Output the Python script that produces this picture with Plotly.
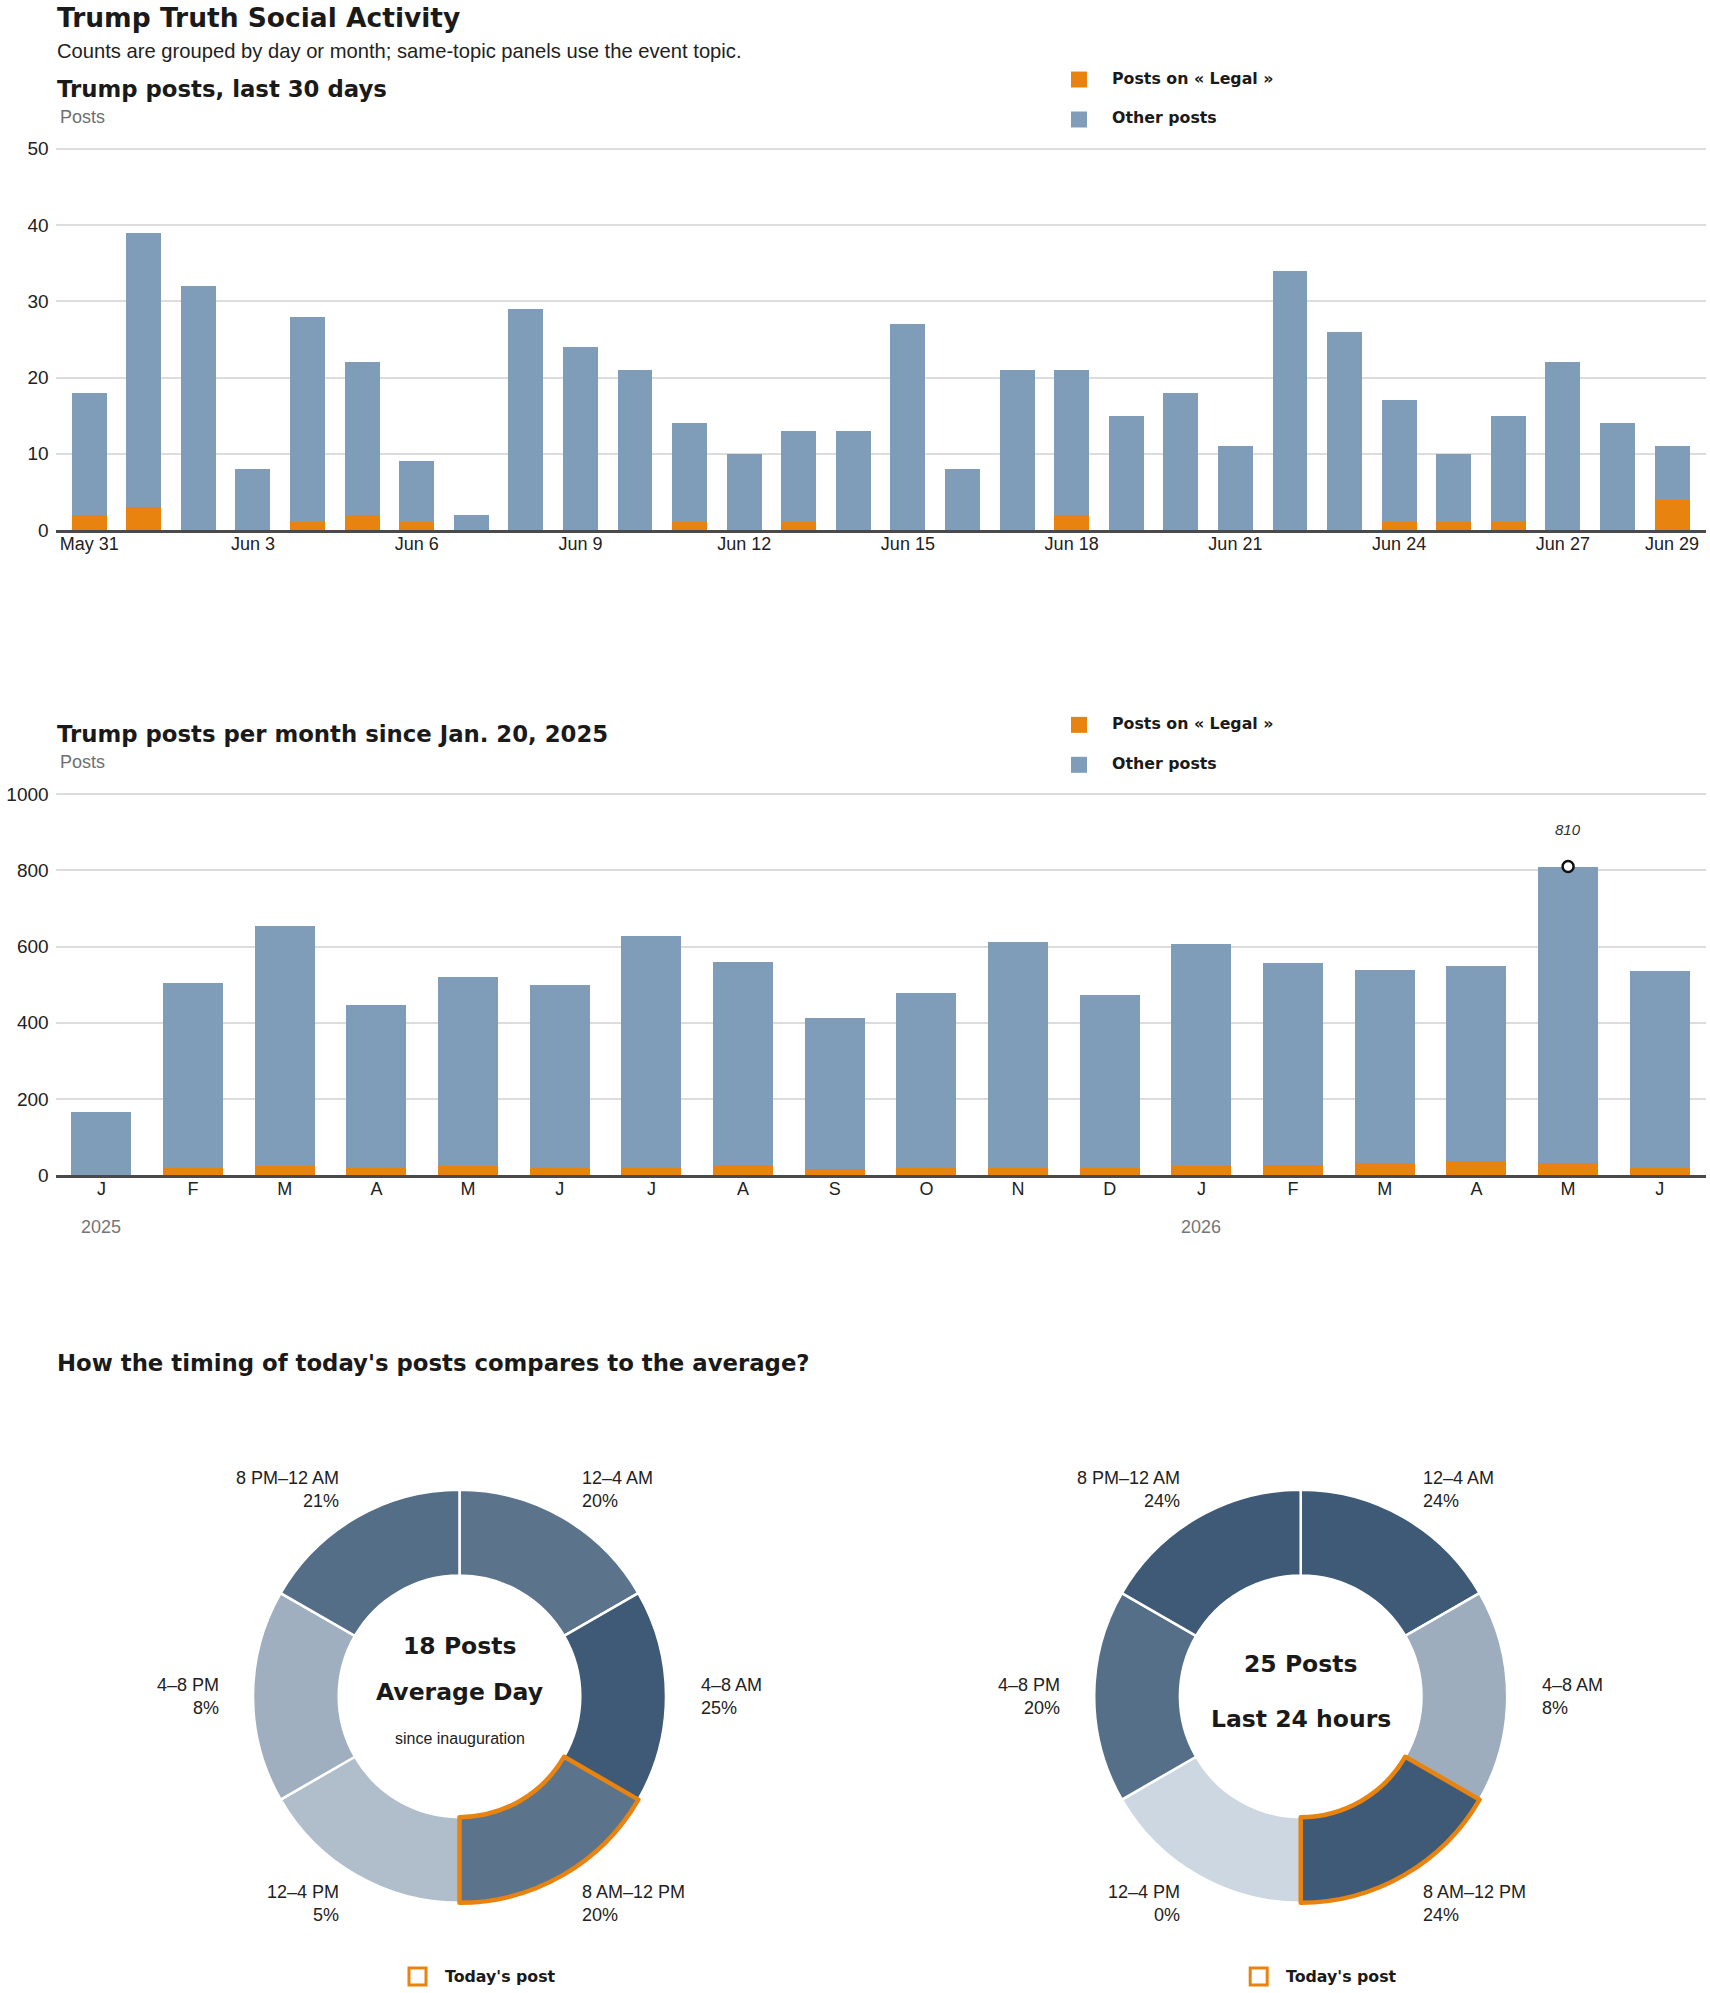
import plotly.graph_objects as go

# ---------------- data ----------------
days = ["May 31", "Jun 1", "Jun 2", "Jun 3", "Jun 4", "Jun 5", "Jun 6", "Jun 7", "Jun 8", "Jun 9",
        "Jun 10", "Jun 11", "Jun 12", "Jun 13", "Jun 14", "Jun 15", "Jun 16", "Jun 17", "Jun 18", "Jun 19",
        "Jun 20", "Jun 21", "Jun 22", "Jun 23", "Jun 24", "Jun 25", "Jun 26", "Jun 27", "Jun 28", "Jun 29"]
daily_legal = [2, 3, 0, 0, 1, 2, 1, 0, 0, 0, 0, 1, 0, 1, 0, 0, 0, 0, 2, 0, 0, 0, 0, 0, 1, 1, 1, 0, 0, 4]
daily_other = [16, 36, 32, 8, 27, 20, 8, 2, 29, 24, 21, 13, 10, 12, 13, 27, 8, 21, 19, 15, 18, 11, 34, 26, 16, 9, 14, 22, 14, 7]
day_ticks = ["May 31", "Jun 3", "Jun 6", "Jun 9", "Jun 12", "Jun 15", "Jun 18", "Jun 21", "Jun 24", "Jun 27", "Jun 29"]
daily_yticks = [0, 10, 20, 30, 40, 50]

months = ["Jan 2025", "Feb 2025", "Mar 2025", "Apr 2025", "May 2025", "Jun 2025", "Jul 2025", "Aug 2025",
          "Sep 2025", "Oct 2025", "Nov 2025", "Dec 2025", "Jan 2026", "Feb 2026", "Mar 2026", "Apr 2026",
          "May 2026", "Jun 2026"]
month_letters = ["J", "F", "M", "A", "M", "J", "J", "A", "S", "O", "N", "D", "J", "F", "M", "A", "M", "J"]
monthly_legal = [0, 20, 25, 20, 25, 20, 20, 27, 15, 20, 20, 20, 25, 27, 33, 38, 33, 20]
monthly_other = [166, 485, 630, 427, 496, 479, 608, 533, 398, 458, 592, 453, 582, 530, 506, 512, 777, 516]
monthly_yticks = [0, 200, 400, 600, 800, 1000]
year_labels = {"Jan 2025": "2025", "Jan 2026": "2026"}

slots = ["12–4 AM", "4–8 AM", "8 AM–12 PM", "12–4 PM", "4–8 PM", "8 PM–12 AM"]
avg_pct = [20, 25, 20, 5, 8, 21]
today_pct = [24, 8, 24, 0, 20, 24]
current_slot = "8 AM–12 PM"
avg_posts = 18
today_posts = 25

# ---------------- style ----------------
W, H = 1710, 1993
ORANGE = "#E8830F"
BLUE = "#7F9DB9"
GRID = "#dcdcdc"
INK = "#1a1a1a"
GRAY = "#6f6f6f"
BOLD = "DejaVu Sans"
REG = "Liberation Sans"

# vertical placement calibration (screen y = T + S * figure y)
T_OFF, S_V = 5.4, 0.992


def px(x):
    return x / W


def py(s):
    return 1 - (s - T_OFF) / (S_V * H)


fig = go.Figure()

# chart 1: daily
fig.add_trace(go.Bar(x=days, y=daily_legal, name="Posts on « Legal »", marker=dict(color=ORANGE, line=dict(width=0)),
                     width=0.64, xaxis="x", yaxis="y", showlegend=False))
fig.add_trace(go.Bar(x=days, y=daily_other, name="Other posts", marker=dict(color=BLUE, line=dict(width=0)),
                     width=0.64, xaxis="x", yaxis="y", showlegend=False))

# chart 2: monthly
fig.add_trace(go.Bar(x=months, y=monthly_legal, name="Posts on « Legal »", marker=dict(color=ORANGE, line=dict(width=0)),
                     width=0.655, xaxis="x2", yaxis="y2", showlegend=False))
fig.add_trace(go.Bar(x=months, y=monthly_other, name="Other posts", marker=dict(color=BLUE, line=dict(width=0)),
                     width=0.655, xaxis="x2", yaxis="y2", showlegend=False))

monthly_total = [a + b for a, b in zip(monthly_legal, monthly_other)]
peak_i = max(range(len(monthly_total)), key=lambda i: monthly_total[i])
fig.add_trace(go.Scatter(x=[months[peak_i]], y=[monthly_total[peak_i]], mode="markers",
                         marker=dict(symbol="circle", size=11, color="white", line=dict(color="#111", width=2.5)),
                         xaxis="x2", yaxis="y2", showlegend=False, hoverinfo="skip"))

# plot areas (screen px): chart 1 from 147.3 to 529, chart 2 from 793.4 to 1174.8; extend 3px on top so top grid shows
EXT = 3
c1_top, c1_bot = 147.3, 529.0
c2_top, c2_bot = 793.4, 1174.8
c1_max = daily_yticks[-1] * (1 + EXT / (c1_bot - c1_top))
c2_max = monthly_yticks[-1] * (1 + EXT / (c2_bot - c2_top))

tick_font = dict(family=REG, size=19, color="#222")
layout_axes = dict(
    xaxis=dict(domain=[px(55.6), px(1705.6)], anchor="y", type="category", categoryorder="array",
               categoryarray=days, range=[-0.615, 29.615], tickvals=day_ticks, ticktext=day_ticks,
               showgrid=False, showline=True, linecolor="#4a4a4a", linewidth=3, ticks="",
               ticklabelstandoff=-5, tickfont=dict(family=REG, size=18, color="#222")),
    yaxis=dict(domain=[py(c1_bot), py(c1_top - EXT)], anchor="x", range=[0, c1_max], tickvals=daily_yticks,
               showgrid=True, gridcolor=GRID, gridwidth=1.5, zeroline=False, showline=False, ticks="",
               ticklabelstandoff=6, tickfont=tick_font),
    xaxis2=dict(domain=[px(55.6), px(1705.6)], anchor="y2", type="category", categoryorder="array",
                categoryarray=months, range=[-0.5, 17.5], tickvals=months, ticktext=month_letters,
                showgrid=False, showline=True, linecolor="#4a4a4a", linewidth=3, ticks="",
                ticklabelstandoff=-5, tickfont=dict(family=REG, size=18, color="#222")),
    yaxis2=dict(domain=[py(c2_bot), py(c2_top - EXT)], anchor="x2", range=[0, c2_max],
                tickvals=monthly_yticks, showgrid=True,
                gridcolor=GRID, gridwidth=1.5, zeroline=False, showline=False, ticks="",
                ticklabelstandoff=6, tickfont=tick_font),
)


# donuts
def shade(p, pmax):
    t = p / pmax if pmax else 0
    lo = (205, 215, 225)
    hi = (62, 90, 118)
    c = [round(lo[k] + (hi[k] - lo[k]) * t) for k in range(3)]
    return "rgb(%d,%d,%d)" % tuple(c)


R = 206.5
CY = 1696.5
for cx, pcts in [(459.5, avg_pct), (1300.7, today_pct)]:
    dom = dict(x=[px(cx - R), px(cx + R)], y=[py(CY + R + 1), py(CY - R - 1)])
    pmax = max(pcts)
    fig.add_trace(go.Pie(values=[1] * len(slots), labels=slots, sort=False, direction="clockwise", rotation=0,
                         hole=0.585, domain=dom, textinfo="none", showlegend=False,
                         text=[f"{p}%" for p in pcts], hoverinfo="label+text",
                         marker=dict(colors=[shade(p, pmax) for p in pcts], line=dict(color="white", width=2.5))))
    fig.add_trace(go.Pie(values=[1] * len(slots), labels=slots, sort=False, direction="clockwise", rotation=0,
                         hole=0.585, domain=dom, textinfo="none", showlegend=False, hoverinfo="skip",
                         marker=dict(colors=["rgba(0,0,0,0)"] * len(slots),
                                     line=dict(color=[ORANGE if s == current_slot else "rgba(0,0,0,0)" for s in slots],
                                               width=[4.5 if s == current_slot else 0 for s in slots]))))

annotations = []
shapes = []


def txt(x, y, text, size, family=REG, color=INK, weight=400, xanchor="left", align="left"):
    annotations.append(dict(x=px(x), y=py(y), xref="paper", yref="paper", text=text, showarrow=False,
                            xanchor=xanchor, yanchor="middle", align=align,
                            font=dict(family=family, size=size, color=color, weight=weight)))


txt(55, 16, "Trump Truth Social Activity", 26.5, BOLD, weight=700)
txt(55, 49, "Counts are grouped by day or month; same-topic panels use the event topic.", 20.2, REG, color="#222")
txt(55, 87, "Trump posts, last 30 days", 22.8, BOLD, weight=700)
txt(58, 116, "Posts", 18, REG, color=GRAY)
txt(55, 733, "Trump posts per month since Jan. 20, 2025", 22.8, BOLD, weight=700)
txt(58, 761, "Posts", 18, REG, color=GRAY)
txt(55, 1363, "How the timing of today's posts compares to the average?", 22.8, BOLD, weight=700)

# manual legends
for y_or, y_bl in [(78, 118), (724, 764)]:
    for yc, col, lab in [(y_or, ORANGE, "Posts on « Legal »"), (y_bl, BLUE, "Other posts")]:
        shapes.append(dict(type="rect", xref="paper", yref="paper", x0=px(1071), x1=px(1087),
                           y0=py(yc + 8), y1=py(yc - 8), fillcolor=col, line=dict(width=0)))
        txt(1110, yc - 1.5, lab, 15.8, BOLD, weight=700)

# peak annotation
annotations.append(dict(x=months[peak_i], y=monthly_total[peak_i], xref="x2", yref="y2",
                        text=str(monthly_total[peak_i]), showarrow=False, yanchor="middle", yshift=37,
                        font=dict(family=REG, size=15, color="#333", style="italic")))

# year labels
for m, yl in year_labels.items():
    annotations.append(dict(x=m, y=py(1227), xref="x2", yref="paper", text=yl, showarrow=False,
                            yanchor="middle", font=dict(family=REG, size=18, color="#757575")))

# donut labels
label_pos = {
    "12–4 AM": (120.5, -207, "left"),
    "4–8 AM": (239.5, 0, "left"),
    "8 AM–12 PM": (120.5, 207, "left"),
    "12–4 PM": (-118.5, 207, "right"),
    "4–8 PM": (-238.5, 0, "right"),
    "8 PM–12 AM": (-118.5, -207, "right"),
}
for cx, pcts, l1, l2, l3 in [(459.5, avg_pct, f"{avg_posts} Posts", "Average Day", "since inauguration"),
                              (1300.7, today_pct, f"{today_posts} Posts", "Last 24 hours", None)]:
    for s, p in zip(slots, pcts):
        dx, dy, side = label_pos[s]
        txt(cx + dx, CY + dy, f"{s}<br>{p}%", 18, REG, color="#222", xanchor=side, align=side)
    if l3:
        txt(cx, 1646, l1, 23.5, BOLD, weight=700, xanchor="center", align="center")
        txt(cx, 1692, l2, 23.5, BOLD, weight=700, xanchor="center", align="center")
        txt(cx, 1739, l3, 16, REG, color="#222", xanchor="center", align="center")
    else:
        txt(cx, 1664, l1, 23.5, BOLD, weight=700, xanchor="center", align="center")
        txt(cx, 1719, l2, 23.5, BOLD, weight=700, xanchor="center", align="center")
    sx = cx - 50.5
    shapes.append(dict(type="rect", xref="paper", yref="paper", x0=px(sx), x1=px(sx + 17),
                       y0=py(1985.5), y1=py(1968.5), fillcolor="white", line=dict(color=ORANGE, width=3)))
    txt(sx + 34, 1977, "Today's post", 15.8, BOLD, weight=700)

fig.update_layout(
    width=W, height=H, margin=dict(l=0, r=0, t=0, b=0), paper_bgcolor="white", plot_bgcolor="white",
    barmode="stack", annotations=annotations, shapes=shapes, font=dict(family=REG, color=INK),
    **layout_axes,
)

fig.write_html("out.html")
